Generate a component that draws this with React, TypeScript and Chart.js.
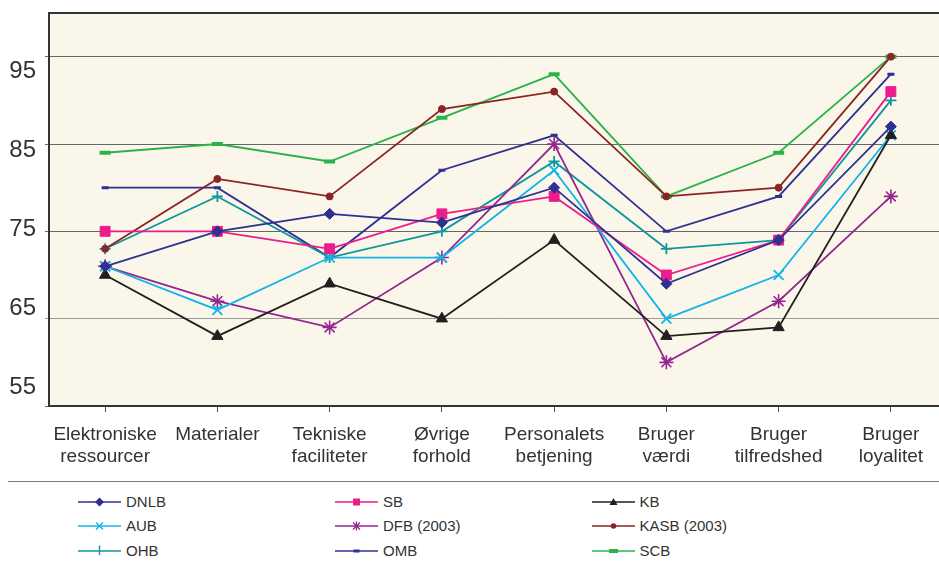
import React, { useEffect, useRef } from "react";
import { Chart, registerables } from "chart.js";

Chart.register(...registerables);

// ---------- data ----------
const categories: string[][] = [
  ["Elektroniske", "ressourcer"],
  ["Materialer"],
  ["Tekniske", "faciliteter"],
  ["Øvrige", "forhold"],
  ["Personalets", "betjening"],
  ["Bruger", "værdi"],
  ["Bruger", "tilfredshed"],
  ["Bruger", "loyalitet"],
];

const yTickValues = [55, 65, 75, 85, 95];

const dnlb = [71, 75, 77, 76, 80, 69, 74, 87];
const sb = [75, 75, 73, 77, 79, 70, 74, 91];
const kb = [70, 63, 69, 65, 74, 63, 64, 86];
const aub = [71, 66, 72, 72, 82, 65, 70, 86];
const dfb = [71, 67, 64, 72, 85, 60, 67, 79];
const kasb = [73, 81, 79, 89, 91, 79, 80, 95];
const ohb = [73, 79, 72, 75, 83, 73, 74, 90];
const omb = [80, 80, 72, 82, 86, 75, 79, 93];
const scb = [84, 85, 83, 88, 93, 79, 84, 95];

const seriesLabels = ["DNLB", "SB", "KB", "AUB", "DFB (2003)", "KASB (2003)", "OHB", "OMB", "SCB"];
const seriesValues = [dnlb, sb, kb, aub, dfb, kasb, ohb, omb, scb];

// ---------- styles ----------
type Mk = "diamond" | "square" | "triangle" | "x" | "star" | "circle" | "plus" | "dashS" | "dashL";
const seriesStyles: { color: string; marker: Mk; pointStyle: string; radius: number; pbw: number }[] = [
  { color: "#2e3192", marker: "diamond", pointStyle: "rectRot", radius: 5.5, pbw: 1 },
  { color: "#ec1c8c", marker: "square", pointStyle: "rect", radius: 7, pbw: 1 },
  { color: "#231f20", marker: "triangle", pointStyle: "triangle", radius: 6.5, pbw: 1 },
  { color: "#12b4ea", marker: "x", pointStyle: "crossRot", radius: 7, pbw: 1.8 },
  { color: "#93278f", marker: "star", pointStyle: "star", radius: 7, pbw: 1.6 },
  { color: "#8b2525", marker: "circle", pointStyle: "circle", radius: 3.5, pbw: 1 },
  { color: "#0f989c", marker: "plus", pointStyle: "cross", radius: 5.5, pbw: 1.8 },
  { color: "#2e3192", marker: "dashS", pointStyle: "line", radius: 3.5, pbw: 3 },
  { color: "#2bb34b", marker: "dashL", pointStyle: "line", radius: 5.5, pbw: 4 },
];

const FONT = "'Liberation Sans', Arial, Helvetica, sans-serif";
const TEXT = "#333333";

const plotBackground = {
  id: "plotBackground",
  beforeDraw(chart: any) {
    const { ctx, chartArea } = chart;
    if (!chartArea) return;
    ctx.save();
    ctx.fillStyle = "#faf6ea";
    ctx.fillRect(chartArea.left, chartArea.top, chartArea.right - chartArea.left, chartArea.bottom - chartArea.top);
    ctx.restore();
  },
  afterDraw(chart: any) {
    const { ctx, chartArea } = chart;
    ctx.save();
    ctx.strokeStyle = "#333333";
    ctx.lineWidth = 2;
    ctx.beginPath();
    ctx.moveTo(chartArea.left - 1, chartArea.top);
    ctx.lineTo(chartArea.right, chartArea.top);
    ctx.stroke();
    ctx.restore();
  },
};

const noAxisPadding = (axis: any) => {
  axis.paddingTop = 0;
  axis.paddingBottom = 0;
  axis.paddingLeft = 0;
  axis.paddingRight = 0;
};

function LegendMarker({ marker, color }: { marker: Mk; color: string }) {
  const cx = 21.5;
  const cy = 8;
  let shape: React.ReactNode = null;
  switch (marker) {
    case "diamond":
      shape = <polygon points={`${cx},${cy - 4.5} ${cx + 4.5},${cy} ${cx},${cy + 4.5} ${cx - 4.5},${cy}`} fill={color} />;
      break;
    case "square":
      shape = <rect x={cx - 3.5} y={cy - 3.5} width={7} height={7} fill={color} />;
      break;
    case "triangle":
      shape = <polygon points={`${cx},${cy - 4} ${cx + 4},${cy + 3} ${cx - 4},${cy + 3}`} fill={color} />;
      break;
    case "x":
      shape = (
        <g stroke={color} strokeWidth={1.4}>
          <line x1={cx - 3.5} y1={cy - 3.5} x2={cx + 3.5} y2={cy + 3.5} />
          <line x1={cx - 3.5} y1={cy + 3.5} x2={cx + 3.5} y2={cy - 3.5} />
        </g>
      );
      break;
    case "star":
      shape = (
        <g stroke={color} strokeWidth={1.3}>
          <line x1={cx - 3.5} y1={cy - 3.5} x2={cx + 3.5} y2={cy + 3.5} />
          <line x1={cx - 3.5} y1={cy + 3.5} x2={cx + 3.5} y2={cy - 3.5} />
          <line x1={cx} y1={cy - 4.5} x2={cx} y2={cy + 4.5} />
        </g>
      );
      break;
    case "circle":
      shape = <circle cx={cx} cy={cy} r={2.8} fill={color} />;
      break;
    case "plus":
      shape = (
        <g stroke={color} strokeWidth={1.4}>
          <line x1={cx} y1={cy - 5.5} x2={cx} y2={cy + 4} />
        </g>
      );
      break;
    case "dashS":
      shape = <rect x={cx - 3} y={cy - 1.5} width={6} height={3} fill={color} />;
      break;
    case "dashL":
      shape = <rect x={cx - 4.5} y={cy - 2} width={9} height={4} fill={color} />;
      break;
  }
  return (
    <svg width={43} height={16} style={{ display: "block", flex: "none" }}>
      <line x1={0} y1={cy} x2={43} y2={cy} stroke={color} strokeWidth={1.6} />
      {shape}
    </svg>
  );
}

const legendColumnsX = [78, 335, 591.5];
const legendRowsY = [502, 526, 550.5];

export default function App() {
  const canvasRef = useRef<HTMLCanvasElement | null>(null);

  useEffect(() => {
    const canvas = canvasRef.current;
    if (!canvas) return;
    const datasets = seriesValues.map((values, i) => {
      const s = seriesStyles[i];
      return {
        label: seriesLabels[i],
        data: values,
        borderColor: s.color,
        backgroundColor: s.color,
        borderWidth: 1.8,
        tension: 0,
        fill: false,
        pointStyle: s.pointStyle,
        pointRadius: s.radius,
        pointBorderWidth: s.pbw,
        pointBackgroundColor: s.color,
        pointBorderColor: s.color,
        pointHoverRadius: s.radius,
      };
    });

    const chart = new Chart(canvas, {
      type: "line",
      data: { labels: categories, datasets: datasets as any },
      plugins: [plotBackground],
      options: {
        animation: false,
        responsive: false,
        devicePixelRatio: 1,
        layout: { padding: { top: 13, right: 13, left: 0, bottom: 0 } },
        plugins: {
          legend: { display: false },
          tooltip: { enabled: false },
          title: { display: false },
        },
        scales: {
          x: {
            type: "category",
            offset: true,
            grid: { display: true, drawOnChartArea: false, drawTicks: true, tickLength: 6, color: "#555555" },
            border: { display: true, color: "#333333", width: 2 },
            ticks: {
              font: { family: FONT, size: 19 },
              color: TEXT,
              padding: 11,
              maxRotation: 0,
              minRotation: 0,
              autoSkip: false,
            },
            afterFit: (axis: any) => {
              axis.height = 64;
              noAxisPadding(axis);
            },
          },
          y: {
            type: "linear",
            position: "left",
            weight: 0,
            min: 55,
            max: 100,
            grid: {
              color: (c: any) => (c.tick && c.tick.value === 65 ? "#9a9a9a" : "#666666"),
              lineWidth: 1,
              drawTicks: true,
              tickLength: 4,
            },
            border: { display: true, color: "#333333", width: 2 },
            ticks: { display: false },
            afterBuildTicks: (axis: any) => {
              axis.ticks = yTickValues.map((v) => ({ value: v }));
            },
            afterFit: (axis: any) => {
              axis.width = 9;
              noAxisPadding(axis);
            },
          },
          yLabels: {
            type: "linear",
            position: "left",
            weight: 1,
            min: 52.59,
            max: 102.42,
            grid: { display: false, drawTicks: false },
            border: { display: false },
            ticks: { font: { family: FONT, size: 24 }, color: TEXT, padding: 4 },
            afterBuildTicks: (axis: any) => {
              axis.ticks = yTickValues.map((v) => ({ value: v }));
            },
            afterFit: (axis: any) => {
              axis.width = 40;
              noAxisPadding(axis);
            },
          },
        },
      } as any,
    });
    return () => chart.destroy();
  }, []);

  return (
    <div
      style={{
        position: "absolute",
        left: 0,
        top: 0,
        width: 939,
        height: 565,
        overflow: "hidden",
        background: "#ffffff",
        fontFamily: FONT,
      }}
    >
      <canvas ref={canvasRef} width={960} height={470} style={{ position: "absolute", left: 0, top: 0, width: 960, height: 470 }} />
      <div
        style={{
          position: "absolute",
          left: 8,
          top: 481,
          width: 931,
          height: 0,
          borderTop: "1.5px solid #7a7a7a",
        }}
      />
      {seriesLabels.map((label, i) => {
        const col = i % 3;
        const row = Math.floor(i / 3);
        const s = seriesStyles[i];
        return (
          <div
            key={label}
            style={{
              position: "absolute",
              left: legendColumnsX[col],
              top: legendRowsY[row] - 8,
              height: 16,
              display: "flex",
              alignItems: "center",
              whiteSpace: "nowrap",
            }}
          >
            <LegendMarker marker={s.marker} color={s.color} />
            <span style={{ marginLeft: 5, fontSize: 15, lineHeight: "16px", color: TEXT }}>{label}</span>
          </div>
        );
      })}
    </div>
  );
}
